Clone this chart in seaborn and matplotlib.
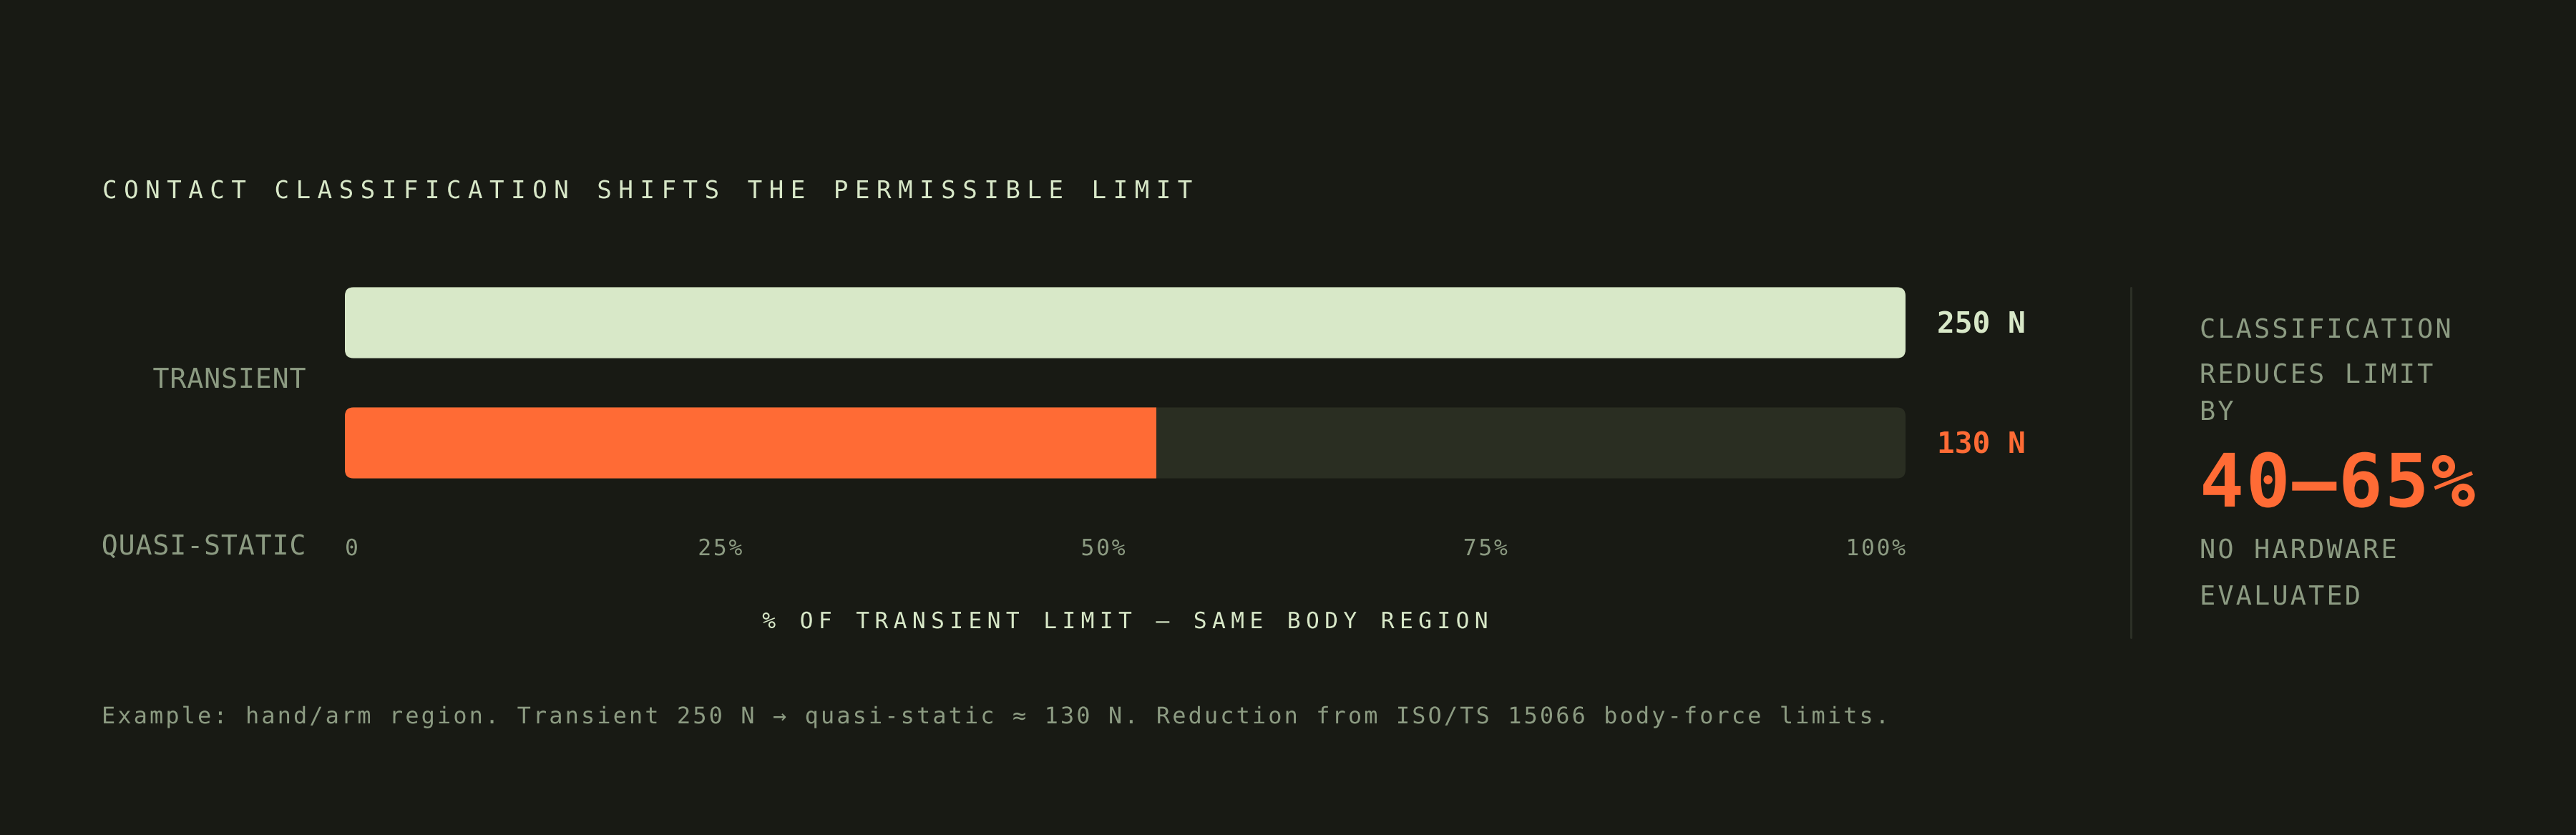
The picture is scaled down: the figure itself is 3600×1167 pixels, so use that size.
import numpy as np
import pandas as pd
import matplotlib
matplotlib.use("Agg")
import matplotlib.pyplot as plt
import seaborn as sns
from matplotlib.patches import FancyBboxPatch
from matplotlib.path import Path
from matplotlib.lines import Line2D
from matplotlib.patheffects import AbstractPathEffect

# ---------------- data ----------------
categories = ["TRANSIENT", "QUASI-STATIC"]
force_n = [250, 130]
tick_values = [0, 25, 50, 75, 100]
tick_labels = ["0", "25%", "50%", "75%", "100%"]
title = "CONTACT CLASSIFICATION SHIFTS THE PERMISSIBLE LIMIT"
xlabel = "% OF TRANSIENT LIMIT \u2014 SAME BODY REGION"
footnote = ("Example: hand/arm region. Transient 250 N \u2192 quasi-static \u2248 130 N. "
            "Reduction from ISO/TS 15066 body-force limits.")
side_top = ["CLASSIFICATION", "REDUCES LIMIT", "BY"]
side_big = "40\u201365%"
side_bottom = ["NO HARDWARE", "EVALUATED"]

# ---------------- style ----------------
BG = "#181a14"
LIGHT = "#d8e8c8"
MUTED = "#8c9b82"
ORANGE = "#ff6b35"
TRACK = "#2a2e22"
RULE = "#2c3026"
W, H, DPI = 3600, 1167, 200
MONO = "DejaVu Sans Mono"

sns.set_theme(style="dark", rc={"figure.facecolor": BG, "axes.facecolor": BG,
                               "savefig.facecolor": BG})
plt.rcParams["font.family"] = [MONO, "DejaVu Sans"]


class Tracking(AbstractPathEffect):
    """Letter spacing for monospaced text drawn as a path."""

    def __init__(self, spacing_px=0.0, align="left", advance=60.2):
        super().__init__()
        self.spacing_px = spacing_px
        self.align = align
        self.advance = advance

    def draw_path(self, renderer, gc, tpath, affine, rgbFace=None):
        codes = tpath.codes
        verts = np.array(tpath.vertices, dtype=float)
        if codes is None or len(verts) == 0 or self.spacing_px == 0:
            renderer.draw_path(gc, tpath, affine, rgbFace)
            return
        scale = affine.get_matrix()[0, 0]
        sp = self.spacing_px / scale if scale else 0.0
        starts = list(np.where(codes == Path.MOVETO)[0]) + [len(codes)]
        idx = np.zeros(len(verts))
        max_i = 0
        for a, b in zip(starts[:-1], starts[1:]):
            m = codes[a:b] != Path.CLOSEPOLY
            if not m.any():
                continue
            cx = verts[a:b][m, 0].mean()
            gi = int(np.floor(cx / self.advance))
            idx[a:b] = gi
            max_i = max(max_i, gi)
        shift = idx * sp
        if self.align == "center":
            shift -= max_i * sp / 2
        elif self.align == "right":
            shift -= max_i * sp
        verts[:, 0] += shift
        renderer.draw_path(gc, Path(verts, codes), affine, rgbFace)


fig = plt.figure(figsize=(W / DPI, H / DPI), dpi=DPI)
fig.patch.set_facecolor(BG)


def ptext(x, y, s, size, spacing=0.0, color=MUTED, ha="left", weight="normal"):
    return fig.text(x / W, 1 - y / H, s, fontsize=size, color=color, ha=ha,
                    va="baseline", fontweight=weight, family=MONO,
                    path_effects=[Tracking(spacing, align=ha)])


# ---------------- bars ----------------
ax_left, ax_right, ax_top, ax_bot = 482, 2663, 367, 703
ax = fig.add_axes([ax_left / W, 1 - ax_bot / H, (ax_right - ax_left) / W, (ax_bot - ax_top) / H])

df = pd.DataFrame({"category": categories, "force": force_n})
df["pct"] = df["force"] / df["force"].iloc[0] * 100
df["full"] = 100.0

sns.barplot(data=df, y="category", x="full", orient="h", color=TRACK, width=0.59,
            saturation=1, errorbar=None, ax=ax)
sns.barplot(data=df, y="category", x="pct", orient="h", hue="category",
            palette=[LIGHT, ORANGE], width=0.59, saturation=1, errorbar=None,
            legend=False, ax=ax)
ax.set_xlim(0, 100)
ax.set_ylim(len(categories) - 0.5, -0.5)
ax.axis("off")

px_x = (ax_right - ax_left) / 100.0
px_y = (ax_bot - ax_top) / 2.0
radius_px = 12
bars = list(ax.patches)
n = len(categories)
tracks, fills = bars[:n], bars[n:]
for t, f in zip(tracks, fills):
    fb = FancyBboxPatch((t.get_x(), t.get_y()), t.get_width(), t.get_height(),
                        boxstyle=f"round,pad=0,rounding_size={radius_px / px_x}",
                        mutation_aspect=px_x / px_y, fc=TRACK, ec="none", zorder=1)
    ax.add_patch(fb)
    t.remove()
    f.set_edgecolor("none")
    f.set_linewidth(0)
    f.set_zorder(2)
    f.set_clip_path(fb)

# value labels
for i, (v, c) in enumerate(zip(force_n, [LIGHT, ORANGE])):
    ax.annotate(f"{v} N", xy=(100, i), xycoords="data", xytext=(44, -15),
                textcoords="offset pixels", ha="left", va="baseline",
                fontsize=14.8, fontweight="bold", color=c, family=MONO,
                annotation_clip=False)

# tick labels (space-between layout as in the original)
tick_ha = ["left", "center", "center", "center", "right"]
tick_dx = [0, -21, -31, -42, 0]
for v, lab, ha, dx in zip(tick_values, tick_labels, tick_ha, tick_dx):
    ax.annotate(lab, xy=(v, H - 776), xycoords=("data", "figure pixels"),
                xytext=(dx, 0), textcoords="offset pixels", ha=ha, va="baseline",
                fontsize=11.3, color=MUTED, family=MONO, annotation_clip=False,
                path_effects=[Tracking(2.7, align=ha)])

# category labels
for lab, yb in zip(categories, [542, 775]):
    ptext(428, yb, lab, 13.8, spacing=0.8, color=MUTED, ha="right")

# title, axis label, footnote
ptext(143, 277, title, 12.35, spacing=9.4, color=LIGHT)
ptext(1572, 878, xlabel, 11.3, spacing=7.3, color=LIGHT, ha="center")
ptext(142, 1011, footnote, 11.5, spacing=3.1, color=MUTED)

# divider
fig.add_artist(Line2D([2978 / W, 2978 / W], [1 - 402 / H, 1 - 891 / H],
                      transform=fig.transFigure, color=RULE, lw=1.1))

# side panel
for s, yb in zip(side_top, [472, 535, 587]):
    ptext(3074, yb, s, 13.3, spacing=3.1, color=MUTED)
ptext(3074, 708, side_big, 37.1, spacing=2.6, color=ORANGE, weight="bold")
for s, yb in zip(side_bottom, [780, 845]):
    ptext(3074, yb, s, 13.3, spacing=3.1, color=MUTED)

fig.savefig("out.png", dpi=DPI, facecolor=BG)
